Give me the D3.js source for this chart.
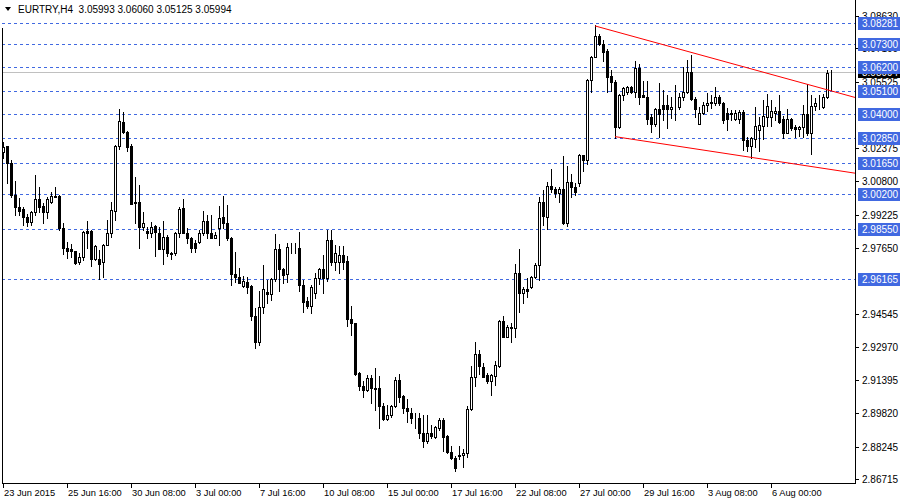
<!DOCTYPE html>
<html>
<head>
<meta charset="utf-8">
<script src="https://cdn.jsdelivr.net/npm/d3@7"></script>
<style>
  body { margin: 0; background: #fff; }
  text { font-family: "Liberation Sans", Arial, sans-serif; font-size: 10px; }
  .timeLabel { font-size: 9.3px; }
</style>
</head>
<body>
<div class="chart"></div>
<script>
// EURTRY H4 candles, 23 Jun 2015 .. 7 Aug 2015
var open = [3.0220,3.0248,3.0167,3.0016,2.9960,2.9950,2.9912,2.9886,2.9935,2.9999,2.9964,2.9935,2.9983,3.0007,3.0011,2.9860,2.9765,2.9758,2.9751,2.9699,
  2.9723,2.9846,2.9846,2.9713,2.9713,2.9699,2.9779,2.9836,2.9942,3.0248,3.0362,3.0314,3.0248,2.9983,2.9983,2.9865,2.9846,2.9836,2.9869,2.9836,
  2.9760,2.9817,2.9741,2.9741,2.9836,2.9955,2.9836,2.9813,2.9789,2.9794,2.9836,2.9893,2.9836,2.9813,2.9860,2.9912,2.9884,2.9813,2.9642,2.9628,
  2.9585,2.9604,2.9585,2.9443,2.9320,2.9486,2.9557,2.9547,2.9618,2.9760,2.9666,2.9642,2.9765,2.9765,2.9765,2.9590,2.9515,2.9491,2.9552,2.9623,
  2.9666,2.9623,2.9803,2.9699,2.9699,2.9732,2.9704,2.9429,2.9410,2.9173,2.9112,2.9093,2.9150,2.9102,2.9102,2.9017,2.8956,2.8975,2.9017,2.9140,
  2.9065,2.9008,2.8984,2.8960,2.8960,2.8890,2.8852,2.8890,2.8871,2.8913,2.8951,2.8875,2.8800,2.8771,2.8783,2.8783,2.8795,2.9003,2.9155,2.9264,
  2.9202,2.9164,2.9136,2.9159,2.9207,2.9419,2.9344,2.9386,2.9386,2.9647,2.9552,2.9571,2.9580,2.9628,2.9685,2.9983,2.9912,3.0059,3.0044,3.0025,
  3.0044,2.9884,3.0078,3.0054,3.0073,3.0205,3.0182,3.0560,3.0669,3.0768,3.0731,3.0698,3.0579,3.0551,3.0338,3.0489,3.0504,3.0527,3.0504,3.0617,
  3.0489,3.0480,3.0387,3.0352,3.0423,3.0442,3.0442,3.0423,3.0432,3.0432,3.0480,3.0504,3.0598,3.0470,3.0352,3.0404,3.0442,3.0451,3.0451,3.0480,
  3.0451,3.0404,3.0404,3.0376,3.0376,3.0409,3.0276,3.0248,3.0281,3.0324,3.0343,3.0385,3.0385,3.0404,3.0413,3.0376,3.0310,3.0376,3.0338,3.0329,
  3.0338,3.0399,3.0310,3.0437,3.0449,3.0432,3.0480,3.05993];
var high = [3.0267,3.0250,3.0182,3.0082,3.0001,2.9960,2.9926,2.9940,3.0111,3.0054,2.9978,3.0007,3.0030,3.0054,3.0016,2.9884,2.9794,2.9784,2.9753,2.9741,
  2.9846,2.9893,2.9850,2.9779,2.9756,2.9784,2.9898,2.9983,3.0253,3.0423,3.0409,3.0319,3.0257,3.0101,3.0063,2.9935,2.9865,2.9889,2.9874,2.9865,
  2.9893,2.9827,2.9746,2.9841,2.9960,2.9997,2.9860,2.9817,2.9803,2.9850,2.9940,2.9921,2.9921,2.9841,2.9964,3.0011,2.9969,2.9817,2.9746,2.9670,
  2.9633,2.9628,2.9588,2.9481,2.9562,2.9685,2.9614,2.9623,2.9831,2.9784,2.9668,2.9789,2.9789,2.9789,2.9841,2.9614,2.9533,2.9590,2.9647,2.9670,
  2.9732,2.9850,2.9850,2.9779,2.9775,2.9775,2.9727,2.9491,2.9412,2.9178,2.9136,2.9164,2.9164,2.9197,2.9159,2.9031,2.9022,2.9022,2.9155,2.9169,
  2.9067,2.9050,2.9008,2.8984,2.8984,2.8975,2.8975,2.8927,2.8922,2.8961,2.8960,2.8880,2.8828,2.8781,2.8828,2.8814,2.9017,2.9207,2.9320,2.9282,
  2.9221,2.9173,2.9169,2.9230,2.9424,2.9443,2.9401,2.9410,2.9689,2.9760,2.9580,2.9623,2.9633,2.9694,3.0007,3.0040,3.0078,3.0139,3.0054,3.0054,
  3.0201,3.0153,3.0115,3.0073,3.0210,3.0207,3.0563,3.0672,3.0820,3.0778,3.0750,3.0707,3.0608,3.0560,3.0494,3.0527,3.0532,3.0530,3.0650,3.0636,
  3.0556,3.0556,3.0399,3.0428,3.0546,3.0513,3.0489,3.0480,3.0537,3.0499,3.0622,3.0655,3.0679,3.0480,3.0432,3.0456,3.0499,3.0489,3.0527,3.0489,
  3.0456,3.0428,3.0418,3.0418,3.0418,3.0418,3.0291,3.0291,3.0432,3.0385,3.0466,3.0494,3.0466,3.0432,3.0489,3.0390,3.0423,3.0380,3.0347,3.0343,
  3.0442,3.0541,3.0489,3.0475,3.0489,3.0494,3.0608,3.06060];
var low = [3.0191,3.0073,3.0007,2.9921,2.9921,2.9874,2.9869,2.9874,2.9921,2.9935,2.9884,2.9907,2.9980,3.0005,2.9850,2.9737,2.9718,2.9723,2.9689,2.9689,
  2.9708,2.9765,2.9680,2.9708,2.9618,2.9628,2.9777,2.9817,2.9898,3.0234,3.0310,3.0224,2.9971,2.9884,2.9765,2.9850,2.9813,2.9817,2.9727,2.9758,
  2.9689,2.9727,2.9713,2.9732,2.9817,2.9834,2.9789,2.9746,2.9746,2.9789,2.9827,2.9813,2.9810,2.9810,2.9779,2.9860,2.9803,2.9590,2.9604,2.9598,
  2.9580,2.9552,2.9424,2.9292,2.9306,2.9457,2.9505,2.9519,2.9609,2.9562,2.9600,2.9604,2.9741,2.9741,2.9562,2.9462,2.9481,2.9457,2.9529,2.9595,
  2.9552,2.9609,2.9685,2.9661,2.9647,2.9666,2.9396,2.9353,2.9166,2.9093,2.9060,2.9090,2.9031,2.8998,2.8913,2.8951,2.8951,2.8965,2.9012,2.9036,
  2.8984,2.8942,2.8937,2.8913,2.8866,2.8823,2.8842,2.8866,2.8866,2.8904,2.8804,2.8795,2.8766,2.8710,2.8766,2.8729,2.8776,2.8998,2.9112,2.9169,
  2.9152,2.9126,2.9069,2.9117,2.9202,2.9342,2.9342,2.9320,2.9344,2.9462,2.9505,2.9533,2.9576,2.9623,2.9614,2.9874,2.9855,3.0030,3.0007,2.9983,
  2.9879,2.9869,3.0007,3.0016,3.0059,3.0130,3.0163,3.0504,3.0667,3.0726,3.0650,3.0504,3.0508,3.0286,3.0333,3.0466,3.0494,3.0499,3.0480,3.0447,
  3.0478,3.0352,3.0314,3.0343,3.0291,3.0371,3.0333,3.0380,3.0371,3.0423,3.0466,3.0499,3.0466,3.0385,3.0350,3.0399,3.0413,3.0428,3.0442,3.0442,
  3.0357,3.0324,3.0371,3.0371,3.0357,3.0229,3.0224,3.0191,3.0244,3.0224,3.0281,3.0343,3.0343,3.0371,3.0357,3.0286,3.0308,3.0324,3.0291,3.0295,
  3.0291,3.0300,3.0210,3.0418,3.0423,3.0428,3.0475,3.05125];
var close = [3.0244,3.0167,3.0016,2.9960,2.9940,2.9912,2.9889,2.9935,2.9997,2.9960,2.9935,2.9997,3.0011,3.0011,2.9860,2.9765,2.9751,2.9750,2.9694,2.9723,
  2.9841,2.9836,2.9713,2.9775,2.9689,2.9779,2.9836,2.9945,3.0248,3.0366,3.0314,3.0244,2.9973,2.9978,2.9865,2.9884,2.9836,2.9865,2.9841,2.9760,
  2.9817,2.9741,2.9737,2.9836,2.9950,2.9836,2.9813,2.9765,2.9765,2.9836,2.9893,2.9836,2.9813,2.9827,2.9907,2.9884,2.9813,2.9642,2.9628,2.9600,
  2.9609,2.9580,2.9443,2.9320,2.9486,2.9571,2.9547,2.9618,2.9760,2.9666,2.9637,2.9770,2.9766,2.9764,2.9590,2.9510,2.9491,2.9580,2.9623,2.9666,
  2.9623,2.9803,2.9699,2.9741,2.9732,2.9699,2.9429,2.9410,2.9169,2.9112,2.9093,2.9150,2.9102,2.9098,2.9017,2.8956,2.8975,2.9017,2.9140,2.9060,
  2.9008,2.8994,2.8960,2.8961,2.8890,2.8852,2.8890,2.8875,2.8918,2.8951,2.8871,2.8800,2.8771,2.8724,2.8781,2.8795,2.9003,2.9155,2.9264,2.9207,
  2.9155,2.9136,2.9164,2.9211,2.9419,2.9344,2.9391,2.9391,2.9647,2.9552,2.9571,2.9562,2.9628,2.9685,2.9983,2.9917,3.0059,3.0044,3.0025,3.0044,
  2.9884,3.0078,3.0054,3.0030,3.0205,3.0182,3.0560,3.0669,3.0768,3.0731,3.0693,3.0575,3.0551,3.0338,3.0489,3.0522,3.0527,3.0504,3.0617,3.0480,
  3.0480,3.0376,3.0352,3.0423,3.0399,3.0423,3.0423,3.0432,3.0433,3.0480,3.0504,3.0598,3.0470,3.0423,3.0404,3.0442,3.0451,3.0456,3.0480,3.0451,
  3.0371,3.0376,3.0399,3.0404,3.0409,3.0276,3.0248,3.0286,3.0343,3.0347,3.0390,3.0437,3.0413,3.0413,3.0362,3.0310,3.0376,3.0333,3.0329,3.0338,
  3.0399,3.0310,3.0437,3.0451,3.0452,3.0480,3.0593,3.05994];

// x axis labels (candle index -> text)
var timeTickIdx = [0, 16, 32, 48, 64, 80, 96, 112, 128, 144, 160, 176, 192];
var timeTickText = ["23 Jun 2015", "25 Jun 16:00", "30 Jun 08:00", "3 Jul 00:00", "7 Jul 16:00", "10 Jul 08:00",
  "15 Jul 00:00", "17 Jul 16:00", "22 Jul 08:00", "27 Jul 00:00", "29 Jul 16:00", "3 Aug 08:00", "6 Aug 00:00"];

// price scale labels that are visible (others sit under the level boxes)
var priceTicks = [3.08630, 3.07100, 3.05525, 3.02375, 3.00800, 2.99225, 2.97650,
  2.94545, 2.92970, 2.91395, 2.89820, 2.88245, 2.86715];

// horizontal support/resistance levels
var levels = [3.08281, 3.07300, 3.06200, 3.05100, 3.04000, 3.02850, 3.01650, 3.00200, 2.98550, 2.96165];

// trend channel anchors: [candle index, price]
var upperTrend = [[148, 3.0816], [206, 3.0514]];
var lowerTrend = [[153, 3.0292], [187, 3.0194]];

var symbol = "EURTRY,H4";

var svgWidth = 900, svgHeight = 500;
var plot = { left: 2, right: 855, top: 0, bottom: 483 };

var svg = d3.select(".chart").append("svg")
  .attr("width", svgWidth)
  .attr("height", svgHeight)
  .style("background-color", "#fff")
  .style("display", "block");

var candles = open.map(function (o, i) {
  return { i: i, o: o, h: high[i], l: low[i], c: close[i] };
});

var x = d3.scaleLinear().domain([0, 207]).range([3, 831]);
var y = d3.scaleLinear().domain([2.86715, 3.08630]).range([479, 16]);
var fmt = d3.format(".5f");
var last = candles[candles.length - 1];

svg.append("defs").append("clipPath").attr("id", "plotClip")
  .append("rect")
  .attr("x", plot.left).attr("y", plot.top)
  .attr("width", plot.right - plot.left).attr("height", plot.bottom - plot.top);

var chartGroup = svg.append("g").attr("clip-path", "url(#plotClip)");

// level lines
chartGroup.selectAll(".level").data(levels).enter().append("line")
  .attr("x1", plot.left).attr("x2", plot.right)
  .attr("y1", d => Math.round(y(d)) + 0.5).attr("y2", d => Math.round(y(d)) + 0.5)
  .attr("stroke", "#4169e1")
  .attr("stroke-dasharray", "3,3")
  .attr("stroke-width", 1);

// bid line
chartGroup.append("line")
  .attr("x1", plot.left).attr("x2", plot.right)
  .attr("y1", Math.round(y(last.c)) + 0.5).attr("y2", Math.round(y(last.c)) + 0.5)
  .attr("stroke", "#c0c0c0");

// candles
var candleG = chartGroup.selectAll(".candle").data(candles).enter().append("g");

candleG.append("line")
  .attr("x1", d => Math.round(x(d.i)) + 0.5).attr("x2", d => Math.round(x(d.i)) + 0.5)
  .attr("y1", d => Math.round(y(d.h))).attr("y2", d => Math.round(y(d.l)) + 1)
  .attr("stroke", "#000");

candleG.append("rect")
  .attr("x", d => Math.round(x(d.i)) - 0.5)
  .attr("y", d => Math.round(y(Math.max(d.o, d.c))) + 0.5)
  .attr("width", 2)
  .attr("height", d => Math.max(0, Math.round(y(Math.min(d.o, d.c))) - Math.round(y(Math.max(d.o, d.c)))))
  .attr("fill", d => d.c >= d.o ? "#fff" : "#000")
  .attr("stroke", "#000")
  .attr("stroke-width", 1);

// trend lines, extended to the right edge
function trendPath(pts) {
  var i0 = pts[0][0], p0 = pts[0][1], i1 = pts[1][0], p1 = pts[1][1];
  var slope = (p1 - p0) / (i1 - i0);
  var iEnd = x.invert(plot.right + 5);
  return [[x(i0), y(p0)], [x(iEnd), y(p0 + slope * (iEnd - i0))]];
}
[upperTrend, lowerTrend].forEach(function (t) {
  var p = trendPath(t);
  chartGroup.append("line")
    .attr("x1", p[0][0]).attr("y1", p[0][1])
    .attr("x2", p[1][0]).attr("y2", p[1][1])
    .attr("stroke", "#ff0000").attr("stroke-width", 1);
});

// frame
svg.append("line").attr("x1", plot.left + 0.5).attr("x2", plot.left + 0.5)
  .attr("y1", 28).attr("y2", plot.bottom + 0.5).attr("stroke", "#000");
svg.append("line").attr("x1", plot.left).attr("x2", plot.right + 1)
  .attr("y1", plot.bottom + 0.5).attr("y2", plot.bottom + 0.5).attr("stroke", "#000");
svg.append("line").attr("x1", plot.right + 0.5).attr("x2", plot.right + 0.5)
  .attr("y1", 0).attr("y2", plot.bottom + 1).attr("stroke", "#000");

// price axis ticks and labels
var priceAxis = svg.append("g");
priceAxis.selectAll("line").data(priceTicks).enter().append("line")
  .attr("x1", plot.right).attr("x2", plot.right + 4)
  .attr("y1", d => Math.round(y(d)) + 0.5).attr("y2", d => Math.round(y(d)) + 0.5)
  .attr("stroke", "#000");
priceAxis.selectAll("text").data(priceTicks).enter().append("text")
  .attr("x", plot.right + 7)
  .attr("y", d => Math.round(y(d)) + 4)
  .attr("fill", "#000")
  .text(d => fmt(d));

// time axis ticks and labels
var timeAxis = svg.append("g");
timeAxis.selectAll("line").data(timeTickIdx).enter().append("line")
  .attr("x1", d => Math.round(x(d)) + 0.5).attr("x2", d => Math.round(x(d)) + 0.5)
  .attr("y1", plot.bottom).attr("y2", plot.bottom + 5)
  .attr("stroke", "#000");
timeAxis.selectAll("text").data(timeTickIdx).enter().append("text")
  .attr("class", "timeLabel")
  .attr("x", d => Math.round(x(d)) + 1)
  .attr("y", plot.bottom + 13)
  .attr("fill", "#000")
  .text((d, k) => timeTickText[k]);

// bid price label
var bidY = Math.round(y(last.c));
svg.append("rect").attr("x", plot.right + 3).attr("y", bidY - 6)
  .attr("width", 42).attr("height", 12).attr("fill", "#000");
svg.append("text").attr("x", plot.right + 7).attr("y", bidY + 4)
  .attr("fill", "#fff").text(fmt(last.c));

// level price labels
var levelLabels = svg.append("g").selectAll("g").data(levels).enter().append("g");
levelLabels.append("rect")
  .attr("x", plot.right + 3).attr("y", d => Math.round(y(d)) - 6)
  .attr("width", 42).attr("height", 13)
  .attr("fill", "#4169e1");
levelLabels.append("text")
  .attr("x", plot.right + 7).attr("y", d => Math.round(y(d)) + 4)
  .attr("fill", "#fff")
  .text(d => fmt(d));

// title
svg.append("path").attr("d", "M5,7 L11,7 L8,11 Z").attr("fill", "#000");
svg.append("text").attr("x", 18).attr("y", 13).attr("fill", "#000")
  .style("white-space", "pre")
  .text(symbol + "  " + [last.o, last.h, last.l, last.c].map(fmt).join(" "));
</script>
</body>
</html>
